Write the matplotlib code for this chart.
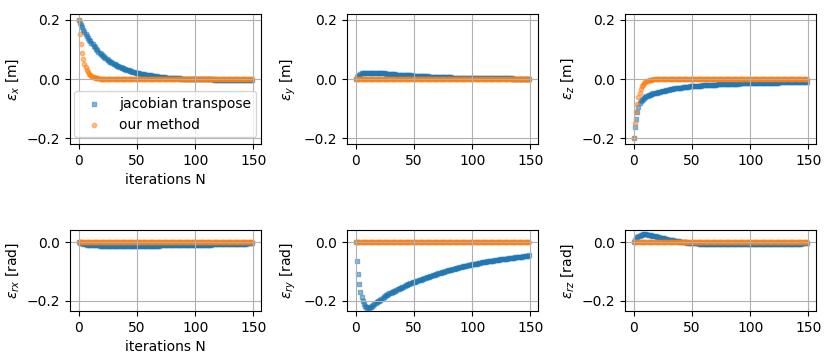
import numpy as np
import matplotlib
matplotlib.use('Agg')
import matplotlib.pyplot as plt

# iterations 0..149
iters = list(range(150))

# position error x, jacobian transpose / our method
ex_jt = [0.200, 0.191, 0.183, 0.175, 0.167, 0.160, 0.153, 0.146, 0.140, 0.133,
         0.128, 0.122, 0.117, 0.111, 0.107, 0.102, 0.097, 0.093, 0.089, 0.085,
         0.081, 0.078, 0.074, 0.071, 0.068, 0.065, 0.062, 0.059, 0.057, 0.054,
         0.052, 0.050, 0.047, 0.045, 0.043, 0.041, 0.040, 0.038, 0.036, 0.035,
         0.033, 0.031, 0.030, 0.029, 0.027, 0.026, 0.025, 0.024, 0.023, 0.022,
         0.021, 0.020, 0.019, 0.018, 0.017, 0.016, 0.016, 0.015, 0.014, 0.013,
         0.013, 0.012, 0.012, 0.011, 0.010, 0.010, 0.009, 0.009, 0.008, 0.008,
         0.007, 0.007, 0.007, 0.006, 0.006, 0.005, 0.005, 0.005, 0.004, 0.004,
         0.004, 0.003, 0.003, 0.003, 0.002, 0.002, 0.002, 0.002, 0.001, 0.001,
         0.001, 0.001, 0.000, 0.000, 0.000, 0.000, 0.000, 0.000, 0.000, 0.000,
         0.000, -0.001, -0.001, -0.001, -0.001, -0.001, -0.001, -0.001, -0.001, -0.001,
         -0.001, -0.001, -0.001, -0.001, -0.001, -0.001, -0.002, -0.002, -0.002, -0.002,
         -0.002, -0.002, -0.002, -0.002, -0.002, -0.002, -0.002, -0.002, -0.002, -0.002,
         -0.002, -0.003, -0.003, -0.003, -0.003, -0.003, -0.003, -0.003, -0.003, -0.003,
         -0.003, -0.003, -0.003, -0.003, -0.003, -0.003, -0.003, -0.003, -0.003, -0.003]
ex_om = [0.200, 0.153, 0.117, 0.089, 0.069, 0.052, 0.040, 0.031, 0.023, 0.018,
         0.014, 0.010, 0.008, 0.006, 0.005, 0.003, 0.003, 0.002, 0.001, 0.001] + [0.0] * 130

# position error y
ey_jt = [0.000, 0.006, 0.011, 0.015, 0.017, 0.019, 0.020, 0.021, 0.022, 0.022,
         0.022, 0.022, 0.022, 0.022, 0.022, 0.022, 0.021, 0.021, 0.021, 0.021,
         0.020, 0.020, 0.020, 0.019, 0.019, 0.019, 0.018, 0.018, 0.018, 0.017,
         0.017, 0.017, 0.016, 0.016, 0.016, 0.015, 0.015, 0.015, 0.014, 0.014,
         0.014, 0.013, 0.013, 0.013, 0.013, 0.012, 0.012, 0.012, 0.012, 0.011,
         0.011, 0.011, 0.011, 0.010, 0.010, 0.010, 0.010, 0.010, 0.009, 0.009,
         0.009, 0.009, 0.009, 0.008, 0.008, 0.008, 0.008, 0.008, 0.007, 0.007,
         0.007, 0.007, 0.007, 0.007, 0.007, 0.006, 0.006, 0.006, 0.006, 0.006,
         0.006, 0.006, 0.006, 0.005, 0.005, 0.005, 0.005, 0.005, 0.005, 0.005,
         0.005, 0.005, 0.004, 0.004, 0.004, 0.004, 0.004, 0.004, 0.004, 0.004,
         0.004, 0.004, 0.004, 0.003, 0.003, 0.003, 0.003, 0.003, 0.003, 0.003,
         0.003, 0.003, 0.003, 0.003, 0.003, 0.002, 0.002, 0.002, 0.002, 0.002,
         0.002, 0.002, 0.002, 0.002, 0.002, 0.002, 0.002, 0.002, 0.002, 0.002,
         0.002, 0.002, 0.002, 0.002, 0.002, 0.001, 0.001, 0.001, 0.001, 0.001,
         0.001, 0.001, 0.001, 0.001, 0.001, 0.001, 0.001, 0.001, 0.001, 0.001]
ey_om = [0.0] * 150

# position error z
ez_jt = [-0.200, -0.164, -0.136, -0.113, -0.095, -0.082, -0.075, -0.070, -0.066, -0.063,
         -0.060, -0.058, -0.056, -0.054, -0.053, -0.052, -0.050, -0.049, -0.048, -0.047,
         -0.046, -0.045, -0.044, -0.043, -0.042, -0.041, -0.040, -0.039, -0.038, -0.037,
         -0.036, -0.035, -0.034, -0.034, -0.033, -0.032, -0.031, -0.031, -0.030, -0.030,
         -0.029, -0.029, -0.028, -0.028, -0.027, -0.027, -0.026, -0.026, -0.025, -0.025,
         -0.024, -0.024, -0.024, -0.023, -0.023, -0.023, -0.022, -0.022, -0.022, -0.021,
         -0.021, -0.021, -0.021, -0.020, -0.020, -0.020, -0.020, -0.019, -0.019, -0.019,
         -0.019, -0.019, -0.018, -0.018, -0.018, -0.018, -0.018, -0.018, -0.017, -0.017,
         -0.017, -0.017, -0.017, -0.017, -0.016, -0.016, -0.016, -0.016, -0.016, -0.016,
         -0.016, -0.015, -0.015, -0.015, -0.015, -0.015, -0.015, -0.015, -0.015, -0.015,
         -0.015, -0.015, -0.014, -0.014, -0.014, -0.014, -0.014, -0.014, -0.013, -0.013,
         -0.013, -0.013, -0.013, -0.013, -0.013, -0.012, -0.012, -0.012, -0.012, -0.012,
         -0.012, -0.012, -0.012, -0.012, -0.012, -0.011, -0.011, -0.011, -0.011, -0.011,
         -0.011, -0.011, -0.011, -0.011, -0.011, -0.010, -0.010, -0.010, -0.010, -0.010,
         -0.010, -0.010, -0.010, -0.010, -0.010, -0.009, -0.009, -0.009, -0.009, -0.009]
ez_om = [-0.200, -0.148, -0.110, -0.083, -0.062, -0.046, -0.034, -0.025, -0.019, -0.014,
         -0.010, -0.008, -0.006, -0.004, -0.003, -0.002, -0.002, -0.001, -0.001, 0.000] + [0.0] * 130

# orientation error rx
erx_jt = [0.000, -0.002, -0.003, -0.004, -0.005, -0.006, -0.007, -0.008, -0.008, -0.009,
          -0.009, -0.010, -0.010, -0.010, -0.011, -0.011, -0.011, -0.011, -0.012, -0.012,
          -0.012, -0.012, -0.012, -0.012, -0.012, -0.013, -0.013, -0.013, -0.013, -0.013,
          -0.013, -0.013, -0.013, -0.013, -0.013, -0.013, -0.013, -0.013, -0.013, -0.013,
          -0.013, -0.013, -0.013, -0.013, -0.013, -0.013, -0.013, -0.013, -0.013, -0.013,
          -0.013, -0.013, -0.013, -0.013, -0.013, -0.012, -0.012, -0.012, -0.012, -0.012,
          -0.012, -0.012, -0.012, -0.012, -0.012, -0.012, -0.012, -0.012, -0.012, -0.012,
          -0.011, -0.011, -0.011, -0.011, -0.011, -0.011, -0.011, -0.011, -0.011, -0.011,
          -0.011, -0.011, -0.011, -0.011, -0.011, -0.010, -0.010, -0.010, -0.010, -0.010,
          -0.010, -0.010, -0.010, -0.010, -0.010, -0.009, -0.009, -0.009, -0.009, -0.009,
          -0.009, -0.009, -0.009, -0.009, -0.009, -0.008, -0.008, -0.008, -0.008, -0.008,
          -0.008, -0.008, -0.008, -0.008, -0.008, -0.007, -0.007, -0.007, -0.007, -0.007,
          -0.007, -0.007, -0.007, -0.007, -0.007, -0.006, -0.006, -0.006, -0.006, -0.006,
          -0.006, -0.006, -0.006, -0.006, -0.006, -0.005, -0.005, -0.005, -0.005, -0.005,
          -0.005, -0.005, -0.005, -0.005, -0.005, -0.004, -0.004, -0.004, -0.004, -0.004]
erx_om = [0.0] * 150

# orientation error ry
ery_jt = [0.000, -0.064, -0.110, -0.145, -0.171, -0.189, -0.203, -0.212, -0.218, -0.222,
          -0.224, -0.224, -0.223, -0.221, -0.218, -0.215, -0.212, -0.209, -0.206, -0.203,
          -0.200, -0.197, -0.194, -0.191, -0.188, -0.185, -0.182, -0.180, -0.177, -0.175,
          -0.174, -0.172, -0.170, -0.168, -0.166, -0.164, -0.162, -0.160, -0.158, -0.156,
          -0.154, -0.152, -0.150, -0.148, -0.146, -0.145, -0.143, -0.141, -0.140, -0.138,
          -0.137, -0.135, -0.134, -0.132, -0.131, -0.129, -0.128, -0.126, -0.125, -0.123,
          -0.122, -0.121, -0.119, -0.118, -0.116, -0.115, -0.114, -0.112, -0.111, -0.110,
          -0.108, -0.107, -0.106, -0.104, -0.103, -0.102, -0.101, -0.099, -0.098, -0.097,
          -0.096, -0.095, -0.094, -0.093, -0.092, -0.091, -0.090, -0.089, -0.087, -0.086,
          -0.085, -0.084, -0.083, -0.082, -0.081, -0.080, -0.079, -0.078, -0.077, -0.077,
          -0.076, -0.075, -0.074, -0.073, -0.073, -0.072, -0.071, -0.070, -0.069, -0.069,
          -0.068, -0.067, -0.067, -0.066, -0.065, -0.065, -0.064, -0.063, -0.063, -0.062,
          -0.062, -0.061, -0.060, -0.060, -0.059, -0.059, -0.058, -0.058, -0.057, -0.057,
          -0.056, -0.055, -0.055, -0.054, -0.054, -0.053, -0.053, -0.052, -0.052, -0.051,
          -0.050, -0.050, -0.049, -0.049, -0.048, -0.048, -0.047, -0.047, -0.046, -0.045]
ery_om = [0.0] * 150

# orientation error rz
erz_jt = [0.000, 0.008, 0.014, 0.018, 0.021, 0.023, 0.025, 0.026, 0.027, 0.027,
          0.027, 0.027, 0.026, 0.026, 0.025, 0.024, 0.023, 0.022, 0.021, 0.020,
          0.019, 0.018, 0.017, 0.016, 0.015, 0.014, 0.013, 0.012, 0.011, 0.010,
          0.009, 0.008, 0.008, 0.007, 0.006, 0.005, 0.005, 0.004, 0.003, 0.003,
          0.002, 0.002, 0.001, 0.001, 0.000, 0.000, -0.001, -0.001, -0.002, -0.002,
          -0.003, -0.003, -0.003, -0.004, -0.004, -0.004, -0.005, -0.005, -0.005, -0.005,
          -0.006, -0.006, -0.006, -0.006, -0.006, -0.006, -0.007, -0.007, -0.007, -0.007,
          -0.007, -0.007, -0.007, -0.007, -0.007, -0.007, -0.007, -0.007, -0.007, -0.007,
          -0.007, -0.007, -0.007, -0.007, -0.007, -0.006, -0.006, -0.006, -0.006, -0.006,
          -0.006, -0.006, -0.006, -0.006, -0.006, -0.006, -0.006, -0.006, -0.006, -0.006,
          -0.006, -0.006, -0.006, -0.006, -0.006, -0.006, -0.006, -0.006, -0.006, -0.006,
          -0.006, -0.006, -0.006, -0.006, -0.006, -0.005, -0.005, -0.005, -0.005, -0.005,
          -0.005, -0.005, -0.005, -0.005, -0.005, -0.005, -0.005, -0.005, -0.005, -0.005,
          -0.005, -0.005, -0.005, -0.005, -0.005, -0.005, -0.005, -0.005, -0.005, -0.005,
          -0.005, -0.005, -0.005, -0.005, -0.005, -0.004, -0.004, -0.004, -0.004, -0.004]
erz_om = [0.0] * 150

ylabels = [r'$\varepsilon_x$ [m]', r'$\varepsilon_y$ [m]', r'$\varepsilon_z$ [m]',
           r'$\varepsilon_{rx}$ [rad]', r'$\varepsilon_{ry}$ [rad]', r'$\varepsilon_{rz}$ [rad]']

fig = plt.figure(figsize=(8.31, 3.61), dpi=100)

# axes positions (left, bottom, width, height) in figure fraction
lefts = [0.0842, 0.4176, 0.7521]
top_row = [fig.add_axes([l, 0.6011, 0.2298, 0.3601]) for l in lefts]
bot_row = [fig.add_axes([l, 0.1385, 0.2298, 0.2244]) for l in lefts]
axes = top_row + bot_row

series = [(ex_jt, ex_om), (ey_jt, ey_om), (ez_jt, ez_om),
          (erx_jt, erx_om), (ery_jt, ery_om), (erz_jt, erz_om)]

for i, ax in enumerate(axes):
    jt, om = series[i]
    ax.scatter(iters, jt, s=10, marker='s', alpha=0.5, color='tab:blue', label='jacobian transpose')
    ax.scatter(iters, om, s=10, marker='o', alpha=0.5, color='tab:orange', label='our method')
    ax.set_ylabel(ylabels[i])
    ax.grid(True)
    if i < 3:
        ax.set_ylim(-0.22, 0.22)
    else:
        ax.set_ylim(-0.236, 0.042)

top_row[0].set_xlabel('iterations N')
bot_row[0].set_xlabel('iterations N')
top_row[0].legend(loc='lower center')

plt.savefig('out.png', dpi=100)
